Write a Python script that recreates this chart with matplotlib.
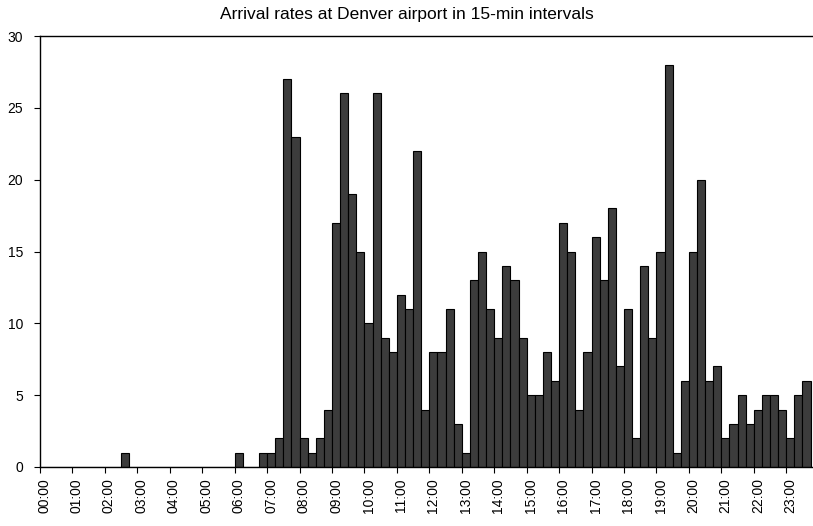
import numpy as np
import matplotlib.pyplot as plt

plt.rcParams['font.family'] = ['Liberation Sans', 'DejaVu Sans']

# arrivals per 15-min slot, 00:00 .. 23:30 (23:45 is cut off in the source)
arrivals = [0, 0, 0, 0, 0, 0, 0, 0, 0, 0, 1, 0,          # 00:00-02:45
            0, 0, 0, 0, 0, 0, 0, 0, 0, 0, 0, 0,          # 03:00-05:45
            1, 0, 0, 1, 1, 2, 27, 23, 2, 1, 2, 4,        # 06:00-08:45
            17, 26, 19, 15, 10, 26, 9, 8, 12, 11, 22, 4,  # 09:00-11:45
            8, 8, 11, 3, 1, 13, 15, 11, 9, 14, 13, 9,     # 12:00-14:45
            5, 5, 8, 6, 17, 15, 4, 8, 16, 13, 18, 7,      # 15:00-17:45
            11, 2, 14, 9, 15, 28, 1, 6, 15, 20, 6, 7,     # 18:00-20:45
            2, 3, 5, 3, 4, 5, 5, 4, 2, 5, 6]              # 21:00-23:30
hour_labels = ['%02d:00' % h for h in range(24)]

fig = plt.figure(figsize=(8.13, 5.26), dpi=100)
ax = fig.add_axes([40 / 813, 1 - 467 / 526, 1 - 40 / 813, (467 - 36) / 526])

x = np.arange(len(arrivals))
ax.bar(x, arrivals, width=1.0, align='edge', color='#3c3c3c',
       edgecolor='black', linewidth=0.8)

ax.set_xlim(0, 95.3)
ax.set_ylim(0, 30)
ax.set_yticks(range(0, 31, 5))
ax.tick_params(axis='y', direction='out', length=4, width=0.8, labelsize=10, pad=8)

# hour tick marks on bar edges, labels centred under the hour's first slot
ax.set_xticks(np.arange(0, 96, 4))
ax.set_xticklabels([])
ax.set_xticks(np.arange(0, 96, 4) + 0.5, minor=True)
ax.set_xticklabels(hour_labels, minor=True, rotation=90, fontsize=10)
ax.tick_params(axis='x', which='major', direction='out', length=4, width=0.8)
ax.tick_params(axis='x', which='minor', length=0, pad=8)

ax.spines['right'].set_visible(False)
for s in ['left', 'bottom', 'top']:
    ax.spines[s].set_linewidth(1.0)

fig.text(0.5, 1 - 15 / 526, 'Arrival rates at Denver airport in 15-min intervals',
         ha='center', va='center', fontsize=12.5)

fig.savefig('out.png', dpi=100)
